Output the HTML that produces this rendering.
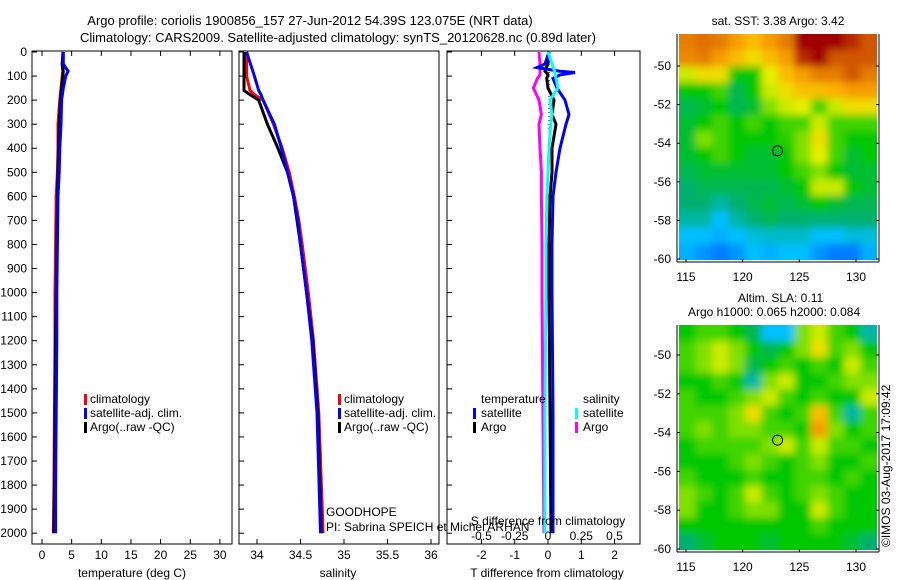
<!DOCTYPE html>
<html><head><meta charset="utf-8"><style>
body{margin:0;background:#fff;}
svg{display:block;font-family:"Liberation Sans",sans-serif;}
text{font-size:12px;fill:#000;}
</style></head><body>
<svg id="chart" width="900" height="580" viewBox="0 0 900 580" xmlns="http://www.w3.org/2000/svg">
<text x="310" y="25" text-anchor="middle" style="font-size:13px">Argo profile: coriolis 1900856_157 27-Jun-2012 54.39S 123.075E (NRT data)</text>
<text x="338" y="42" text-anchor="middle" style="font-size:13px">Climatology: CARS2009. Satellite-adjusted climatology: synTS_20120628.nc (0.89d later)</text>
<g id="g"></g>
</svg>
<script>
// ---------- data ----------
const depths = [0,50,80,100,150,200,300,400,500,600,800,1000,1200,1500,1800,2000];
const tempArgo = [3.6,3.4,3.6,3.5,3.3,3.1,2.9,2.8,2.7,2.6,2.5,2.4,2.3,2.2,2.1,2.0];
const tempClim = [3.5,3.4,3.5,3.4,3.2,3.0,2.7,2.7,2.6,2.4,2.3,2.2,2.2,2.1,2.0,1.9];
const tempSat = [3.6,3.6,4.4,4.0,3.6,3.3,3.2,3.0,2.9,2.7,2.6,2.5,2.5,2.4,2.3,2.3];
const salDepths = [0,100,160,180,200,300,400,500,600,700,800,1000,1200,1500,2000];
const salArgo = [33.85,33.85,33.85,33.93,34.02,34.12,34.24,34.35,34.42,34.46,34.5,34.57,34.64,34.7,34.74];
const salClim = [33.88,33.88,33.92,33.98,34.07,34.19,34.29,34.37,34.43,34.48,34.52,34.59,34.65,34.71,34.76];
const salSat = [33.88,33.97,34.02,34.05,34.07,34.2,34.28,34.35,34.42,34.47,34.5,34.57,34.63,34.69,34.73];
const diffDepths = [0,50,65,80,85,95,110,150,200,260,300,400,500,600,800,1000,1500,2000];
const dTSat = [0.03,-0.09,-0.33,0.36,0.81,0.36,0.15,0.27,0.51,0.63,0.54,0.36,0.24,0.15,0.12,0.12,0.15,0.15];
const dTArgo = [0.03,0.0,-0.05,-0.09,-0.05,0.0,-0.04,0.0,0.18,0.12,0.24,0.12,0.12,0.06,0.03,0.03,0.06,0.09];
const dSSat = [0.0,0.03,0.04,0.05,0.05,0.055,0.06,0.075,0.015,0.03,0.02,0.008,0.0,-0.008,-0.015,-0.015,-0.023,-0.023];
const dSArgo = [-0.068,-0.06,-0.06,-0.06,-0.06,-0.06,-0.08,-0.11,-0.068,-0.05,-0.068,-0.06,-0.05,-0.05,-0.045,-0.045,-0.038,-0.03];
const depthTicks = [0,100,200,300,400,500,600,700,800,900,1000,1100,1200,1300,1400,1500,1600,1700,1800,1900,2000];
const tempTicks = [0,5,10,15,20,25,30];
const salTicks = [34,34.5,35,35.5,36];
const tdTicks = [-2,-1,0,1,2];
const sdTicks = [-0.5,-0.25,0,0.25,0.5];
const latTicks = [-50,-52,-54,-56,-58,-60];
const lonTicks = [115,120,125,130];
const sstGrid = [
[0.8,0.82,0.8,0.75,0.7,0.75,0.8,0.95,0.95,0.95,0.9,0.85],
[0.78,0.8,0.75,0.7,0.65,0.7,0.75,0.9,0.95,0.85,0.85,0.85],
[0.6,0.65,0.65,0.45,0.45,0.62,0.7,0.75,0.8,0.8,0.85,0.8],
[0.45,0.45,0.5,0.4,0.45,0.6,0.65,0.7,0.7,0.72,0.75,0.75],
[0.4,0.42,0.45,0.4,0.42,0.55,0.6,0.62,0.5,0.6,0.65,0.65],
[0.42,0.45,0.5,0.45,0.5,0.45,0.5,0.5,0.6,0.5,0.5,0.5],
[0.42,0.55,0.5,0.45,0.45,0.45,0.48,0.55,0.65,0.5,0.45,0.45],
[0.42,0.45,0.5,0.45,0.42,0.42,0.45,0.55,0.62,0.5,0.42,0.45],
[0.4,0.42,0.42,0.42,0.42,0.42,0.45,0.5,0.55,0.45,0.42,0.42],
[0.38,0.4,0.4,0.4,0.4,0.4,0.42,0.45,0.6,0.6,0.45,0.42],
[0.38,0.38,0.35,0.38,0.4,0.42,0.4,0.42,0.45,0.42,0.4,0.4],
[0.35,0.35,0.3,0.35,0.38,0.4,0.38,0.38,0.38,0.38,0.38,0.38],
[0.3,0.3,0.28,0.3,0.32,0.33,0.33,0.33,0.3,0.3,0.32,0.32],
[0.28,0.25,0.22,0.25,0.3,0.28,0.3,0.3,0.25,0.22,0.22,0.28]];
const slaGrid = [
[0.45,0.5,0.5,0.45,0.4,0.3,0.3,0.55,0.6,0.5,0.45,0.35],
[0.5,0.55,0.6,0.55,0.45,0.4,0.45,0.55,0.65,0.5,0.55,0.45],
[0.5,0.55,0.6,0.55,0.4,0.45,0.5,0.45,0.5,0.45,0.6,0.5],
[0.45,0.45,0.5,0.45,0.35,0.55,0.6,0.45,0.45,0.5,0.55,0.55],
[0.5,0.45,0.45,0.5,0.55,0.6,0.5,0.45,0.5,0.45,0.45,0.6],
[0.5,0.5,0.5,0.55,0.65,0.5,0.45,0.5,0.7,0.5,0.35,0.5],
[0.5,0.55,0.5,0.55,0.55,0.5,0.5,0.45,0.75,0.55,0.45,0.5],
[0.45,0.5,0.5,0.5,0.5,0.55,0.6,0.5,0.6,0.5,0.5,0.45],
[0.45,0.45,0.45,0.5,0.55,0.5,0.45,0.5,0.55,0.45,0.45,0.5],
[0.5,0.45,0.45,0.45,0.5,0.45,0.45,0.5,0.5,0.45,0.5,0.45],
[0.55,0.5,0.45,0.5,0.6,0.5,0.45,0.5,0.55,0.5,0.45,0.45],
[0.55,0.45,0.45,0.5,0.55,0.55,0.45,0.45,0.6,0.5,0.45,0.45],
[0.45,0.45,0.45,0.45,0.45,0.45,0.45,0.45,0.5,0.45,0.45,0.45],
[0.38,0.42,0.45,0.45,0.45,0.42,0.45,0.45,0.45,0.45,0.42,0.38]];

// ---------- helpers ----------
const NS='http://www.w3.org/2000/svg';
const G=document.getElementById('g');
function mk(tag,attrs,parent){const e=document.createElementNS(NS,tag);for(const k in attrs)e.setAttribute(k,attrs[k]);(parent||G).appendChild(e);return e;}
function txt(x,y,s,anchor,size){const t=mk('text',{x:x,y:y,'text-anchor':anchor||'start'});if(size)t.style.fontSize=size+'px';t.textContent=s;return t;}
const yD=d=>52+d*0.2406;
const xT=v=>42+v*5.93;
const xS=v=>257+(v-34)*87;
const xTd=v=>548+v*33.3;
const xSd=v=>548+v*133;
const TOP=51,BOT=544;

function box(x0,x1,name){const r=mk('rect',{x:x0,y:TOP,width:x1-x0,height:BOT-TOP,fill:'none',stroke:'#000','stroke-width':1});

}
function series(xs,ds,fx,color,name){const pts=xs.map((v,i)=>fx(v).toFixed(1)+','+yD(ds[i]).toFixed(1)).join(' ');
const p=mk('polyline',{points:pts,fill:'none',stroke:color,'stroke-width':3,'stroke-linejoin':'miter'});

}

// panel 1
box(32,232,'temperature-panel');
depthTicks.forEach(d=>{mk('line',{x1:32,x2:37,y1:yD(d),y2:yD(d),stroke:'#000'});
const t=txt(27,yD(d)+4,String(d),'end');

});
tempTicks.forEach(v=>{mk('line',{x1:xT(v),x2:xT(v),y1:TOP,y2:TOP+5,stroke:'#000'});mk('line',{x1:xT(v),x2:xT(v),y1:BOT,y2:BOT-5,stroke:'#000'});
const t=txt(xT(v),559,String(v),'middle');

});
series(tempClim,depths,xT,'#ff0000','temp-climatology-line');
series(tempArgo,depths,xT,'#000000','temp-argo-line');
series(tempSat,depths,xT,'#0000ff','temp-satellite-line');
let t=txt(132,577,'temperature (deg C)','middle');



function legend3(x,y){[['#ff0000','climatology'],['#0000ff','satellite-adj. clim.'],['#000000','Argo(..raw -QC)']].forEach((e,i)=>{
const r=mk('rect',{x:x,y:y+i*14-9,width:3,height:11,fill:e[0]});


const l=txt(x+6,y+i*14,e[1]);

});}
legend3(84,403);

// panel 2
box(239,439,'salinity-panel');
depthTicks.forEach(d=>mk('line',{x1:239,x2:244,y1:yD(d),y2:yD(d),stroke:'#000'}));
salTicks.forEach(v=>{mk('line',{x1:xS(v),x2:xS(v),y1:BOT,y2:BOT-5,stroke:'#000'});
const t=txt(xS(v),559,String(v),'middle');

});
series(salClim,salDepths,xS,'#ff0000','sal-climatology-line');
series(salArgo,salDepths,xS,'#000000','sal-argo-line');
series(salSat,salDepths,xS,'#0000ff','sal-satellite-line');
t=txt(338,577,'salinity','middle');


legend3(338,403);
t=txt(326,516,'GOODHOPE');


t=txt(326,531,'PI: Sabrina SPEICH et Michel ARHAN');



// panel 3
box(447,640,'difference-panel');
depthTicks.forEach(d=>mk('line',{x1:447,x2:452,y1:yD(d),y2:yD(d),stroke:'#000'}));
tdTicks.forEach(v=>{mk('line',{x1:xTd(v),x2:xTd(v),y1:TOP,y2:TOP+5,stroke:'#000'});mk('line',{x1:xTd(v),x2:xTd(v),y1:BOT,y2:BOT-5,stroke:'#000'});
const t=txt(xTd(v),559,String(v),'middle');

});
sdTicks.forEach(v=>{const t=txt(xSd(v),540,String(v),'middle');

});
mk('line',{x1:549,x2:549,y1:yD(50),y2:yD(450),stroke:'#000','stroke-dasharray':'1,3'});
series(dSArgo,diffDepths,xSd,'#ff00ff','sdiff-argo-line');
series(dTArgo,diffDepths,xTd,'#000000','tdiff-argo-line');
series(dTSat,diffDepths,xTd,'#0000ff','tdiff-satellite-line');
series(dSSat,diffDepths,xSd,'#00ffff','sdiff-satellite-line');
t=txt(548,525,'S difference from climatology','middle');


t=txt(547,577,'T difference from climatology','middle');


t=txt(481,403,'temperature');


t=txt(583,403,'salinity');


[[473,'#0000ff','satellite',417],[473,'#000000','Argo',431],[575,'#00ffff','satellite',417],[575,'#ff00ff','Argo',431]].forEach(e=>{
const r=mk('rect',{x:e[0],y:e[3]-9,width:3,height:11,fill:e[1]});


const l=txt(e[0]+8,e[3],e[2]);

});

// maps
const stops=[[0,[0,0,143]],[0.15,[0,64,255]],[0.3,[0,192,255]],[0.38,[0,176,112]],[0.45,[0,200,0]],[0.55,[128,224,0]],[0.62,[232,240,0]],[0.72,[255,176,0]],[0.82,[224,112,0]],[0.95,[160,0,0]],[1,[140,0,0]]];
function cmap(v){for(let i=1;i<stops.length;i++){if(v<=stops[i][0]){const a=stops[i-1],b=stops[i],f=(v-a[0])/(b[0]-a[0]);return 'rgb('+a[1].map((c,k)=>Math.round(c+(b[1][k]-c)*f)).join(',')+')';}}return 'rgb(140,0,0)';}
const defs=mk('defs',{});
const flt=mk('filter',{id:'bl',x:'-5%',y:'-5%',width:'110%',height:'110%'},defs);
mk('feGaussianBlur',{stdDeviation:4},flt);
function map(grid,x0,y0,w,h,lat50,lat60,name,circ){
const cp=mk('clipPath',{id:'c'+name},defs);mk('rect',{x:x0,y:y0,width:w,height:h},cp);
const outer=mk('g',{'clip-path':'url(#c'+name+')'});


const g=mk('g',{filter:'url(#bl)'},outer);
const R=grid.length,C=grid[0].length,cw=w/C,ch=h/R;
grid.forEach((row,r)=>row.forEach((v,c)=>mk('rect',{x:x0+c*cw-(c==0?8:0),y:y0+r*ch-(r==0?8:0),width:cw+1+(c==0||c==C-1?8:0),height:ch+1+(r==0||r==R-1?8:0),fill:cmap(v)},g)));
const yl=l=>lat50+(l+50)/(-10)*(lat60-lat50);
const xl=l=>686+(l-115)*(856-686)/15;
mk('circle',{cx:xl(123.075),cy:yl(-54.39),r:5,fill:'none',stroke:'#000','stroke-width':1});
mk('line',{x1:x0-2,x2:x0-2,y1:y0,y2:y0+h+2,stroke:'#000'});
mk('line',{x1:x0+w+2,x2:x0+w+2,y1:y0,y2:y0+h+2,stroke:'#000'});
mk('line',{x1:x0-2,x2:x0+w+2,y1:y0+h+2,y2:y0+h+2,stroke:'#000'});
latTicks.forEach(l=>{mk('line',{x1:x0-2,x2:x0+1,y1:yl(l),y2:yl(l),stroke:'#000'});mk('line',{x1:x0+w-1,x2:x0+w+2,y1:yl(l),y2:yl(l),stroke:'#000'});
const t=txt(x0-8,yl(l)+4,String(l),'end');

});
lonTicks.forEach(l=>{mk('line',{x1:xl(l),x2:xl(l),y1:y0+h+2,y2:y0+h-1,stroke:'#000'});
const t=txt(xl(l),y0+h+21,String(l),'middle');

});}
map(sstGrid,679,34,198,226,66,259,'sst-map');
map(slaGrid,679,325,198,225,355,549,'sla-map');
t=txt(778,25,'sat. SST: 3.38 Argo: 3.42','middle');


t=txt(738,302,'Altim. SLA: 0.11');


t=txt(688,316,'Argo h1000: 0.065 h2000: 0.084');


t=txt(0,0,'©IMOS 03-Aug-2017 17:09:42','start');
t.setAttribute('transform','translate(890,547) rotate(-90)');


</script>
</body></html>
